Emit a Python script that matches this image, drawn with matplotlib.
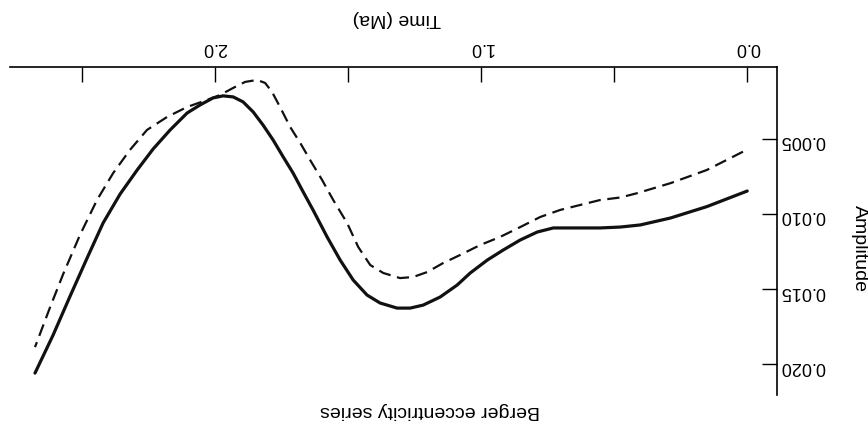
import matplotlib
matplotlib.use("Agg")
from matplotlib import pyplot as plt

plt.rcParams['font.family'] = ['Liberation Sans', 'DejaVu Sans']

# Time (Ma) and amplitude
solid_t = [0.000, 0.152, 0.289, 0.402, 0.477, 0.553, 0.639, 0.729, 0.789, 0.853,
           0.917, 0.977, 1.041, 1.090, 1.154, 1.218, 1.267, 1.316, 1.380, 1.429,
           1.481, 1.530, 1.579, 1.632, 1.669, 1.707, 1.744, 1.782, 1.820, 1.857,
           1.895, 1.932, 1.970, 2.008, 2.056, 2.105, 2.169, 2.233, 2.293, 2.357,
           2.421, 2.481, 2.545, 2.609, 2.677]
solid_amp = [0.00847, 0.00951, 0.01027, 0.01073, 0.01087, 0.01093, 0.01093, 0.01093,
             0.01120, 0.01173, 0.01240, 0.01307, 0.01393, 0.01473, 0.01553, 0.01607,
             0.01627, 0.01627, 0.01593, 0.01540, 0.01440, 0.01307, 0.01153, 0.00973,
             0.00853, 0.00727, 0.00620, 0.00507, 0.00407, 0.00320, 0.00253, 0.00220,
             0.00213, 0.00227, 0.00273, 0.00327, 0.00440, 0.00567, 0.00707, 0.00867,
             0.01060, 0.01293, 0.01547, 0.01807, 0.02060]

dash_t = [0.016, 0.152, 0.289, 0.415, 0.477, 0.553, 0.628, 0.703, 0.778, 0.853,
          0.929, 1.004, 1.079, 1.143, 1.203, 1.256, 1.305, 1.368, 1.417, 1.462,
          1.504, 1.556, 1.598, 1.643, 1.680, 1.718, 1.756, 1.786, 1.812, 1.842,
          1.887, 1.932, 1.981, 2.030, 2.105, 2.180, 2.256, 2.320, 2.383, 2.444,
          2.508, 2.571, 2.620, 2.677]
dash_amp = [0.00585, 0.00707, 0.00795, 0.00862, 0.00890, 0.00907, 0.00940, 0.00973,
            0.01020, 0.01087, 0.01153, 0.01207, 0.01273, 0.01327, 0.01387, 0.01420,
            0.01427, 0.01393, 0.01340, 0.01220, 0.01060, 0.00907, 0.00773, 0.00640,
            0.00527, 0.00420, 0.00287, 0.00187, 0.00127, 0.00107, 0.00120, 0.00160,
            0.00207, 0.00240, 0.00287, 0.00353, 0.00440, 0.00573, 0.00727, 0.00907,
            0.01140, 0.01400, 0.01620, 0.01887]

x_major = [0.0, 1.0, 2.0]
x_minor = [0.5, 1.5, 2.5]
y_ticks = [0.005, 0.010, 0.015, 0.020]

fig = plt.figure(figsize=(8.68, 4.43), dpi=100)
ax = fig.add_axes([0.0115, 0.108, 0.884, 0.741])

ax.plot(solid_t, solid_amp, color='#111111', lw=2.3,
        solid_capstyle='round', solid_joinstyle='round')
ax.plot(dash_t, dash_amp, color='#111111', lw=1.6, linestyle=(0, (5.5, 3)),
        dash_joinstyle='round')

# whole figure is printed upside down
ax.set_xlim(2.771, -0.113)
ax.set_ylim(0.02207, 0.0002)

for side in ['left', 'bottom']:
    ax.spines[side].set_visible(False)
for side in ['top', 'right']:
    ax.spines[side].set_linewidth(1.2)

ax.xaxis.tick_top()
ax.yaxis.tick_right()
ax.set_xticks(x_major)
ax.set_xticklabels(['%.1f' % v for v in x_major])
ax.set_xticks(x_minor, minor=True)
ax.set_yticks(y_ticks)
ax.set_yticklabels(['%.3f' % v for v in y_ticks])

ax.tick_params(axis='x', which='both', direction='in', length=11, width=1.0,
               pad=8, labelsize=13, labelrotation=180)
ax.tick_params(axis='y', which='both', direction='in', length=11, width=1.0,
               pad=2, labelsize=13, labelrotation=180)

fig.text(397 / 868, 1 - 18 / 443, 'Time (Ma)', rotation=180, fontsize=14,
         ha='center', va='center')
fig.text(430 / 868, 1 - 410 / 443, 'Berger eccentricity series', rotation=180,
         fontsize=14, ha='center', va='center')
fig.text(859 / 868, 1 - 249 / 443, 'Amplitude', rotation=270, fontsize=14,
         ha='center', va='center')

fig.savefig('out.png', dpi=100)
